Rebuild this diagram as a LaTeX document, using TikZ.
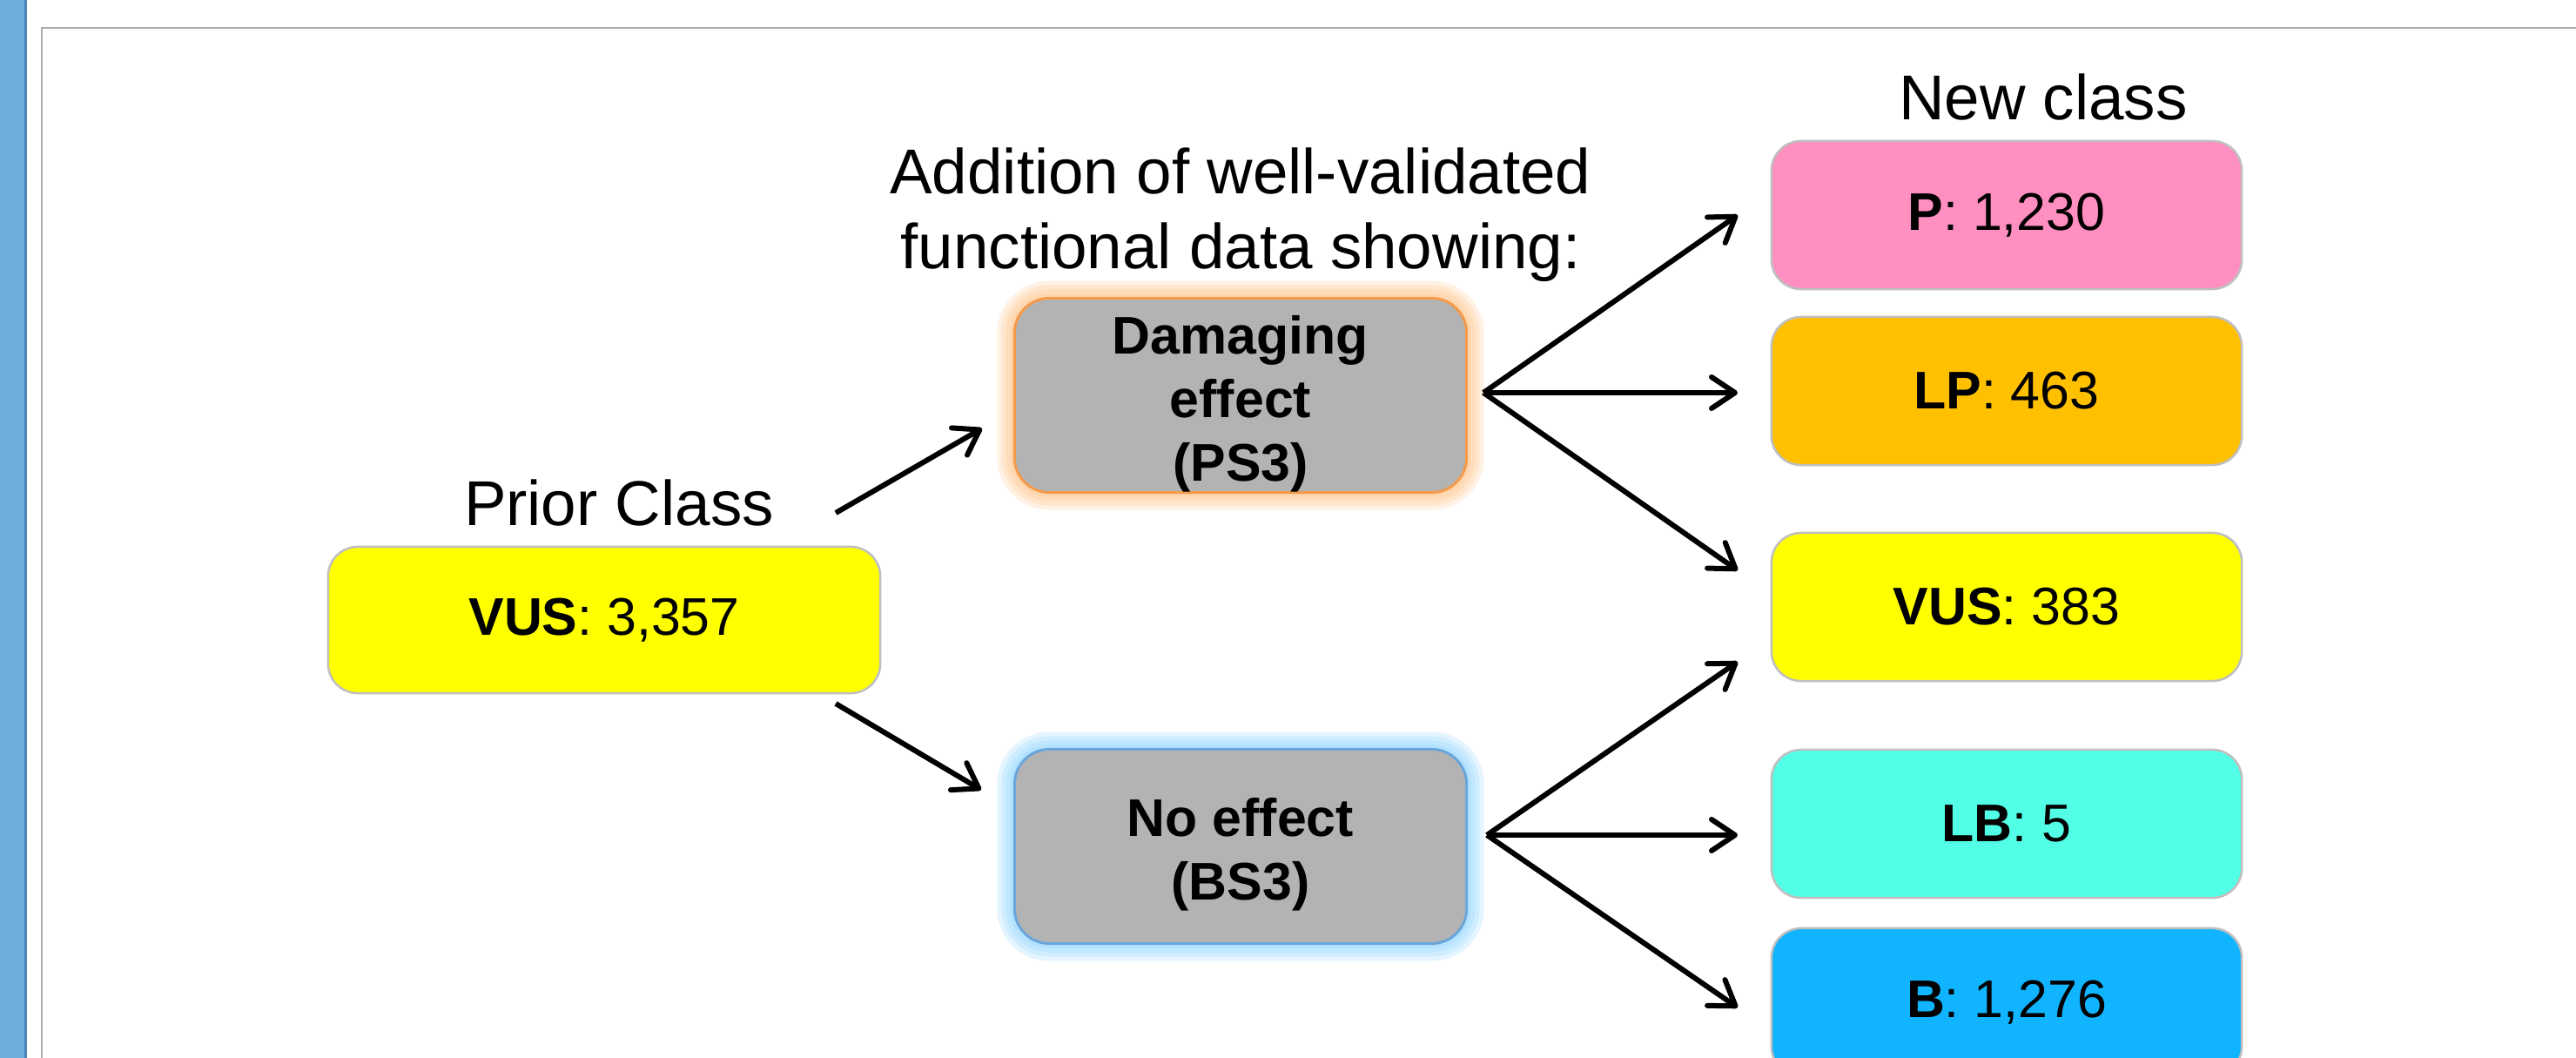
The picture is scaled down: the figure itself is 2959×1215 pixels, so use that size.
\documentclass[tikz,border=0pt]{standalone}
\usepackage{fontspec}
\setmainfont{Liberation Sans}
\usetikzlibrary{arrows.meta}

\definecolor{sidebar}{HTML}{6DADDE}
\definecolor{sidebardark}{HTML}{4A86B9}
\definecolor{frameline}{HTML}{ABABAB}
\definecolor{boxline}{HTML}{BFBFBF}
\definecolor{effectgray}{HTML}{B3B3B3}
\definecolor{dmgedge}{HTML}{F59A4A}
\definecolor{dmgglow}{HTML}{FFC080}
\definecolor{noedge}{HTML}{6AA6DA}
\definecolor{noglow}{HTML}{88D2FF}
\definecolor{pcol}{HTML}{FF8FC1}
\definecolor{lpcol}{HTML}{FFC000}
\definecolor{vuscol}{HTML}{FFFF00}
\definecolor{lbcol}{HTML}{52FFE6}
\definecolor{bcol}{HTML}{10B4FF}

\newcommand{\hdfont}{\fontsize{20.7}{24.5}\selectfont}
\newcommand{\bxfont}{\fontsize{17.3}{20.8}\selectfont}
\newcommand{\upstrut}{\rule{0pt}{0.63cm}}

\begin{document}
\begin{tikzpicture}[x=0.01cm, y=-0.01cm,
    heading/.style={font=\hdfont, inner sep=0pt},
    classbox/.style={draw=boxline, line width=0.025cm, rounded corners=0.34cm,
        inner sep=0pt, minimum width=5.40cm, minimum height=1.70cm, font=\bxfont},
    effectbox/.style={draw=#1, fill=effectgray, line width=0.03cm, rounded corners=0.4cm,
        inner sep=0pt, minimum width=5.19cm, minimum height=2.23cm, align=center,
        font=\bxfont\bfseries},
    glow/.style={preaction={draw=#1, draw opacity=0.22, line width=0.40cm},
        preaction={draw=#1, draw opacity=0.22, line width=0.30cm},
        preaction={draw=#1, draw opacity=0.22, line width=0.20cm},
        preaction={draw=#1, draw opacity=0.22, line width=0.10cm}},
    arr/.style={line width=0.06cm, -{Straight Barb[length=0.27cm, width=0.36cm, round]}}]

    \useasboundingbox (0,0) rectangle (2959,1215);
    \fill[white] (0,0) rectangle (2959,1215);

    % slide frame
    \fill[sidebar] (0,0) rectangle (28,1215);
    \fill[sidebardark] (28,0) rectangle (31,1215);
    \draw[frameline, line width=0.017cm] (48,1215) -- (48,32) -- (2959,32);

    % prior class
    \node[heading, anchor=base] (priorlbl) at (711,603) {Prior Class};
    \node[classbox, fill=vuscol, minimum width=6.34cm, minimum height=1.68cm] (prior) at (694,712) {\textbf{VUS}: 3,357};

    % functional evidence
    \node[heading, anchor=north, align=center] (addlbl) at (1425,169) {Addition of well-validated\\functional data showing:};
    \node[effectbox=dmgedge, glow=dmgglow] (dmg) at (1425,454) {\upstrut Damaging\\effect\\(PS3)};
    \node[effectbox=noedge, glow=noglow] (noeff) at (1425,972) {\upstrut No effect\\(BS3)};

    % new classes
    \node[heading, anchor=base] (newlbl) at (2347,137) {New class};
    \node[classbox, fill=pcol] (p) at (2305,247) {\textbf{P}: 1,230};
    \node[classbox, fill=lpcol] (lp) at (2305,449) {\textbf{LP}: 463};
    \node[classbox, fill=vuscol] (vus) at (2305,697) {\textbf{VUS}: 383};
    \node[classbox, fill=lbcol] (lb) at (2305,946) {\textbf{LB}: 5};
    \node[classbox, fill=bcol] (b) at (2305,1151) {\textbf{B}: 1,276};

    % arrow ends
    \coordinate (priorup) at (960,589);
    \coordinate (priordn) at (960,808);
    \coordinate (dmgin) at (1128,492);
    \coordinate (noin) at (1127,907);
    \coordinate (dmgfan) at (1704,451);
    \coordinate (nofan) at (1708,959);
    \coordinate (tipP) at (1996,247);
    \coordinate (tipLP) at (1996,451);
    \coordinate (tipVa) at (1996,655);
    \coordinate (tipVb) at (1996,760);
    \coordinate (tipLB) at (1996,959);
    \coordinate (tipB) at (1996,1157);

    \draw[arr] (priorup) -- (dmgin);
    \draw[arr] (priordn) -- (noin);

    \draw[arr] (dmgfan) -- (tipP);
    \draw[arr] (dmgfan) -- (tipLP);
    \draw[arr] (dmgfan) -- (tipVa);
    \draw[arr] (nofan) -- (tipVb);
    \draw[arr] (nofan) -- (tipLB);
    \draw[arr] (nofan) -- (tipB);
\end{tikzpicture}
\end{document}
